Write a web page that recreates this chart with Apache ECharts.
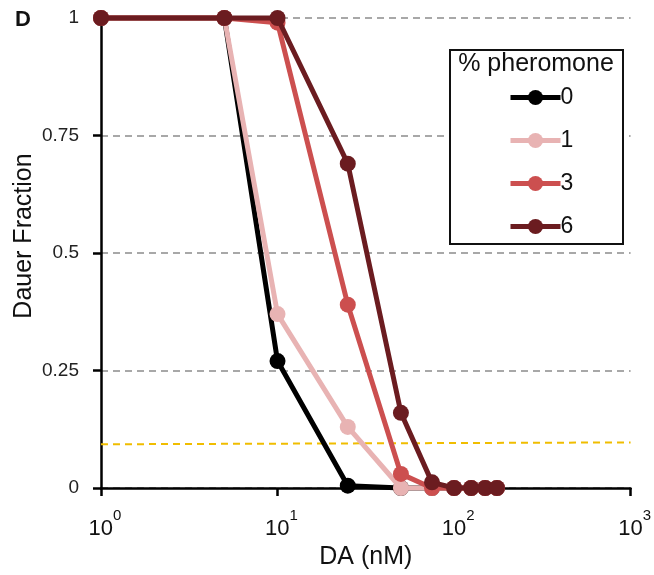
<!DOCTYPE html>
<html>
<head>
<meta charset="utf-8">
<script src="https://cdn.jsdelivr.net/npm/echarts@6/dist/echarts.min.js"></script>
<style>
  html, body { margin: 0; padding: 0; background: #fff; }
  #chart { width: 654px; height: 575px; }
</style>
</head>
<body>
<div id="chart"></div>
<script>
// DA concentrations (nM) shared by every pheromone level
const daConc = [1, 5, 10, 25, 50, 75, 100, 125, 150, 175];

// Dauer fraction for each % pheromone level
const pher0 = [1, 1, 0.27, 0.005, 0, 0, 0, 0, 0, 0];
const pher1 = [1, 1, 0.37, 0.13, 0, 0, 0, 0, 0, 0];
const pher3 = [1, 1, 0.99, 0.39, 0.03, 0, 0, 0, 0, 0];
const pher6 = [1, 1, 1, 0.69, 0.16, 0.012, 0, 0, 0, 0];

const levelNames = ['0', '1', '3', '6'];
const levelColors = ['#000000', '#e8b3b3', '#cc4f4f', '#6b1c20'];
const levelValues = [pher0, pher1, pher3, pher6];

// Threshold guide line (endpoints along the DA range)
const thresholdX = [1, 1000];
const thresholdY = [0.093, 0.097];

const yTicks = [0, 0.25, 0.5, 0.75, 1];

const FONT = '"Liberation Sans", Arial, sans-serif';

const chart = echarts.init(document.getElementById('chart'), null, { renderer: 'canvas' });

const pairs = (xs, ys) => xs.map((x, i) => [x, ys[i]]);

const series = levelNames.map((name, i) => ({
  name: name,
  type: 'line',
  data: pairs(daConc, levelValues[i]),
  symbol: 'circle',
  symbolSize: 16,
  clip: false,
  z: 3 + i,
  lineStyle: { color: levelColors[i], width: 5 },
  itemStyle: { color: levelColors[i] },
  emphasis: { disabled: true },
  animation: false
}));

series.unshift({
  name: 'threshold',
  type: 'line',
  data: pairs(thresholdX, thresholdY),
  symbol: 'none',
  z: 2,
  lineStyle: { color: '#f0bd00', width: 2, type: [7, 5] },
  emphasis: { disabled: true },
  animation: false
});

const option = {
  animation: false,
  backgroundColor: '#ffffff',
  textStyle: { fontFamily: FONT },
  grid: { left: 101, right: 22, top: 18, bottom: 87, containLabel: false },
  xAxis: {
    type: 'log',
    logBase: 10,
    min: 1,
    max: 1000,
    name: 'DA (nM)',
    nameLocation: 'middle',
    nameGap: 57,
    nameMoveOverlap: false,
    nameTextStyle: { fontSize: 25, color: '#111', fontFamily: FONT },
    axisLine: { show: true, lineStyle: { color: '#000', width: 2.5 } },
    axisTick: { show: true, inside: false, length: 8, lineStyle: { color: '#000', width: 2.5 } },
    minorTick: { show: false },
    splitLine: { show: false },
    axisLabel: {
      margin: 20,
      padding: [0, 0, 0, 8],
      formatter: v => '{b|10}{s|' + Math.round(Math.log10(v)) + '}',
      rich: {
        b: { fontSize: 22, color: '#111', fontFamily: FONT, lineHeight: 32, verticalAlign: 'bottom' },
        s: { fontSize: 15, color: '#111', fontFamily: FONT, lineHeight: 32, verticalAlign: 'top' }
      }
    }
  },
  yAxis: {
    type: 'value',
    min: 0,
    max: 1,
    interval: 0.25,
    name: 'Dauer Fraction',
    nameLocation: 'middle',
    nameGap: 64,
    nameMoveOverlap: false,
    nameTextStyle: { fontSize: 25, color: '#111', fontFamily: FONT, padding: [0, 0, 0, 34] },
    axisLine: { show: true, lineStyle: { color: '#000', width: 2.5 } },
    axisTick: { show: true, inside: false, length: 8, lineStyle: { color: '#000', width: 2.5 } },
    axisLabel: {
      margin: 22,
      fontSize: 19,
      color: '#222',
      fontFamily: FONT,
      formatter: v => (yTicks.indexOf(v) >= 0 ? String(v) : '')
    },
    splitLine: { show: true, lineStyle: { color: '#8c8c8c', width: 1.6, type: [7, 5] } }
  },
  legend: {
    data: levelNames,
    orient: 'vertical',
    left: 503,
    top: 81,
    itemWidth: 50,
    itemHeight: 19,
    itemGap: 20,
    selectedMode: false,
    lineStyle: { width: 5 },
    textStyle: { fontSize: 23, color: '#111', fontFamily: FONT, padding: [0, 0, 0, -5] },
    z: 6
  },
  graphic: [
    {
      type: 'rect',
      z: 4,
      shape: { x: 450, y: 50, width: 173, height: 194 },
      style: { fill: '#ffffff', stroke: '#111', lineWidth: 2 }
    },
    {
      type: 'text',
      z: 5,
      x: 536,
      y: 64,
      style: { text: '% pheromone', font: '25px "Liberation Sans", Arial, sans-serif', fill: '#111', align: 'center', verticalAlign: 'middle' }
    },
    {
      type: 'text',
      z: 5,
      x: 23,
      y: 20,
      style: { text: 'D', font: 'bold 22px "Liberation Sans", Arial, sans-serif', fill: '#111', align: 'center', verticalAlign: 'middle' }
    }
  ],
  series: series
};

chart.setOption(option);
</script>
</body>
</html>
